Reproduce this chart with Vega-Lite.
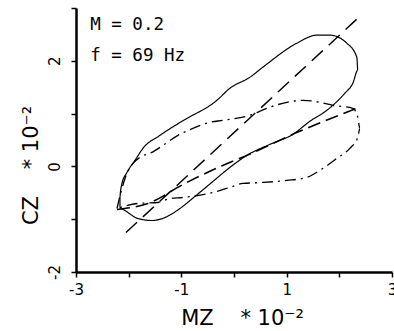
{
  "$schema": "https://vega.github.io/schema/vega-lite/v6.json",
  "width": 316,
  "height": 264,
  "autosize": {"type": "none"},
  "padding": {"left": 76, "top": 8, "right": 2, "bottom": 59},
  "background": "white",
  "config": {
    "view": {"stroke": null},
    "axis": {
      "grid": false,
      "domainColor": "black",
      "domainWidth": 2.5,
      "tickColor": "black",
      "tickWidth": 1.5,
      "tickSize": 5,
      "labelFont": "DejaVu Sans",
      "labelFontSize": 15,
      "labelColor": "black",
      "titleFont": "DejaVu Sans",
      "titleFontWeight": "normal",
      "titleFontSize": 21,
      "titleColor": "black"
    }
  },
  "datasets": {
    "curves": [
      {"series": "solid", "i": 0, "x": -2.165, "y": -0.778},
      {"series": "solid", "i": 1, "x": -2.165, "y": -0.588},
      {"series": "solid", "i": 2, "x": -2.127, "y": -0.323},
      {"series": "solid", "i": 3, "x": -2.032, "y": -0.114},
      {"series": "solid", "i": 4, "x": -1.88, "y": 0.114},
      {"series": "solid", "i": 5, "x": -1.729, "y": 0.342},
      {"series": "solid", "i": 6, "x": -1.406, "y": 0.588},
      {"series": "solid", "i": 7, "x": -0.989, "y": 0.854},
      {"series": "solid", "i": 8, "x": -0.325, "y": 1.252},
      {"series": "solid", "i": 9, "x": -0.078, "y": 1.48},
      {"series": "solid", "i": 10, "x": 0.302, "y": 1.689},
      {"series": "solid", "i": 11, "x": 0.548, "y": 1.879},
      {"series": "solid", "i": 12, "x": 1.194, "y": 2.334},
      {"series": "solid", "i": 13, "x": 1.573, "y": 2.486},
      {"series": "solid", "i": 14, "x": 1.82, "y": 2.486},
      {"series": "solid", "i": 15, "x": 2.142, "y": 2.334},
      {"series": "solid", "i": 16, "x": 2.332, "y": 2.068},
      {"series": "solid", "i": 17, "x": 2.351, "y": 1.822},
      {"series": "solid", "i": 18, "x": 2.256, "y": 1.575},
      {"series": "solid", "i": 19, "x": 2.104, "y": 1.385},
      {"series": "solid", "i": 20, "x": 1.763, "y": 1.063},
      {"series": "solid", "i": 21, "x": 1.44, "y": 0.854},
      {"series": "solid", "i": 22, "x": 1.118, "y": 0.607},
      {"series": "solid", "i": 23, "x": 0.681, "y": 0.417},
      {"series": "solid", "i": 24, "x": 0.245, "y": 0.209},
      {"series": "solid", "i": 25, "x": -0.078, "y": -0.019},
      {"series": "solid", "i": 26, "x": -0.4, "y": -0.285},
      {"series": "solid", "i": 27, "x": -0.742, "y": -0.569},
      {"series": "solid", "i": 28, "x": -1.027, "y": -0.797},
      {"series": "solid", "i": 29, "x": -1.311, "y": -0.968},
      {"series": "solid", "i": 30, "x": -1.558, "y": -1.025},
      {"series": "solid", "i": 31, "x": -1.824, "y": -0.987},
      {"series": "solid", "i": 32, "x": -2.07, "y": -0.835},
      {"series": "solid", "i": 33, "x": -2.165, "y": -0.778},

      {"series": "dashdot", "i": 0, "x": -2.222, "y": -0.797},
      {"series": "dashdot", "i": 1, "x": -2.07, "y": -0.228},
      {"series": "dashdot", "i": 2, "x": -1.918, "y": 0.057},
      {"series": "dashdot", "i": 3, "x": -1.786, "y": 0.171},
      {"series": "dashdot", "i": 4, "x": -1.558, "y": 0.266},
      {"series": "dashdot", "i": 5, "x": -1.349, "y": 0.398},
      {"series": "dashdot", "i": 6, "x": -1.065, "y": 0.588},
      {"series": "dashdot", "i": 7, "x": -0.78, "y": 0.721},
      {"series": "dashdot", "i": 8, "x": -0.457, "y": 0.835},
      {"series": "dashdot", "i": 9, "x": -0.211, "y": 0.873},
      {"series": "dashdot", "i": 10, "x": 0.302, "y": 0.968},
      {"series": "dashdot", "i": 11, "x": 0.624, "y": 1.101},
      {"series": "dashdot", "i": 12, "x": 1.004, "y": 1.214},
      {"series": "dashdot", "i": 13, "x": 1.307, "y": 1.252},
      {"series": "dashdot", "i": 14, "x": 1.63, "y": 1.214},
      {"series": "dashdot", "i": 15, "x": 1.877, "y": 1.157},
      {"series": "dashdot", "i": 16, "x": 2.256, "y": 1.101},
      {"series": "dashdot", "i": 17, "x": 2.351, "y": 0.93},
      {"series": "dashdot", "i": 18, "x": 2.389, "y": 0.721},
      {"series": "dashdot", "i": 19, "x": 2.351, "y": 0.55},
      {"series": "dashdot", "i": 20, "x": 2.199, "y": 0.342},
      {"series": "dashdot", "i": 21, "x": 1.953, "y": 0.152},
      {"series": "dashdot", "i": 22, "x": 1.63, "y": -0.076},
      {"series": "dashdot", "i": 23, "x": 1.383, "y": -0.209},
      {"series": "dashdot", "i": 24, "x": 1.004, "y": -0.266},
      {"series": "dashdot", "i": 25, "x": 0.548, "y": -0.304},
      {"series": "dashdot", "i": 26, "x": 0.169, "y": -0.323},
      {"series": "dashdot", "i": 27, "x": -0.078, "y": -0.398},
      {"series": "dashdot", "i": 28, "x": -0.4, "y": -0.493},
      {"series": "dashdot", "i": 29, "x": -0.97, "y": -0.588},
      {"series": "dashdot", "i": 30, "x": -1.216, "y": -0.607},
      {"series": "dashdot", "i": 31, "x": -1.444, "y": -0.683},
      {"series": "dashdot", "i": 32, "x": -1.824, "y": -0.702},
      {"series": "dashdot", "i": 33, "x": -2.222, "y": -0.797},

      {"series": "longdash", "i": 0, "x": -2.051, "y": -1.252},
      {"series": "longdash", "i": 1, "x": 2.332, "y": 2.789},

      {"series": "dash", "i": 0, "x": -2.222, "y": -0.816},
      {"series": "dash", "i": 1, "x": -1.634, "y": -0.702},
      {"series": "dash", "i": 2, "x": -0.932, "y": -0.323},
      {"series": "dash", "i": 3, "x": -0.211, "y": 0.019},
      {"series": "dash", "i": 4, "x": 0.245, "y": 0.209},
      {"series": "dash", "i": 5, "x": 1.156, "y": 0.626},
      {"series": "dash", "i": 6, "x": 2.332, "y": 1.101}
    ],
    "notes": [
      {"x": -2.73, "y": 2.68, "label": "M = 0.2"},
      {"x": -2.73, "y": 2.1, "label": "f = 69 Hz"}
    ]
  },
  "layer": [
    {
      "data": {"name": "curves"},
      "mark": {"type": "line", "color": "black", "interpolate": "monotone"},
      "encoding": {
        "x": {
          "field": "x", "type": "quantitative",
          "scale": {"domain": [-3, 3], "nice": false, "zero": false},
          "axis": {
            "values": [-3, -2, -1, 0, 1, 2, 3],
            "labelExpr": "abs(datum.value) % 2 == 1 ? toString(datum.value) : ''",
            "labelPadding": 5,
            "labelFlush": false,
            "labelOverlap": false,
            "title": "MZ\u00a0\u00a0\u00a0\u00a0*\u00a010⁻²",
            "titlePadding": 10,
            "titleX": 166
          }
        },
        "y": {
          "field": "y", "type": "quantitative",
          "scale": {"domain": [-2, 3], "nice": false, "zero": false},
          "axis": {
            "values": [-2, -1, 0, 1, 2, 3],
            "labelExpr": "abs(datum.value) % 2 == 0 ? toString(datum.value) : ''",
            "labelAngle": 270,
            "labelPadding": 9,
            "labelFlush": false,
            "labelOverlap": false,
            "title": "CZ\u00a0\u00a0\u00a0\u00a0*\u00a010⁻²",
            "titlePadding": 6,
            "titleY": 157
          }
        },
        "detail": {"field": "series"},
        "order": {"field": "i", "type": "quantitative"},
        "strokeDash": {
          "field": "series", "type": "nominal", "legend": null,
          "scale": {
            "domain": ["solid", "dashdot", "longdash", "dash"],
            "range": [[1, 0], [11, 5, 2, 5], [15, 8], [13, 6]]
          }
        },
        "strokeWidth": {
          "field": "series", "type": "nominal", "legend": null,
          "scale": {
            "domain": ["solid", "dashdot", "longdash", "dash"],
            "range": [1.2, 1.6, 1.8, 1.8]
          }
        }
      }
    },
    {
      "data": {"name": "notes"},
      "mark": {"type": "text", "align": "left", "baseline": "middle", "font": "DejaVu Sans Mono", "fontSize": 17.5, "color": "black"},
      "encoding": {
        "x": {"field": "x", "type": "quantitative"},
        "y": {"field": "y", "type": "quantitative"},
        "text": {"field": "label"}
      }
    }
  ]
}
